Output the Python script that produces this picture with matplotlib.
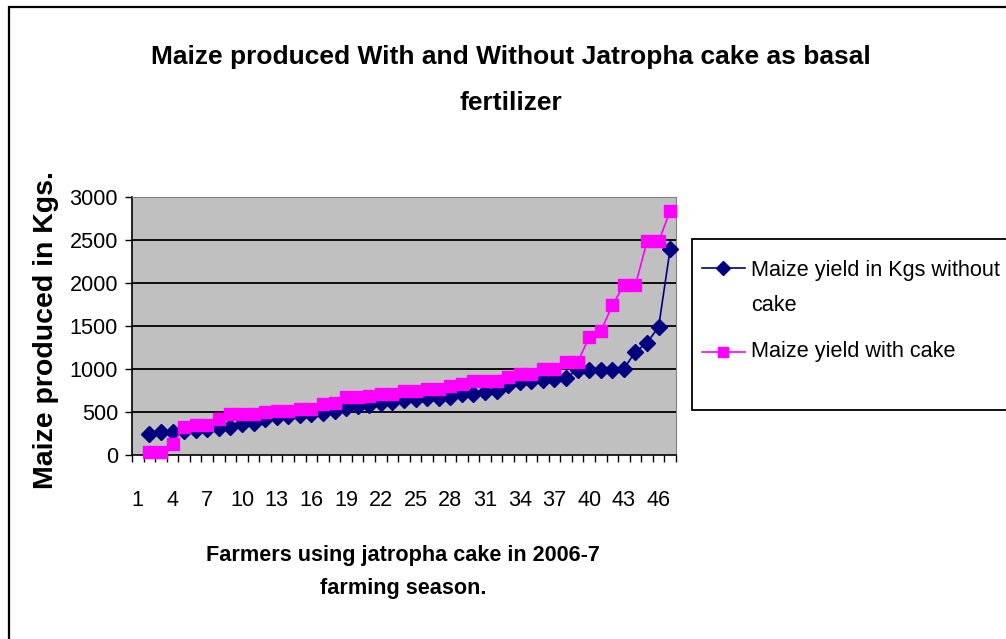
import matplotlib
matplotlib.use('Agg')
import matplotlib.pyplot as plt
from matplotlib.patches import Rectangle
from matplotlib.lines import Line2D

# ---- data ----
categories = list(range(1, 48))            # category axis 1..47
farmer_pos = list(range(2, 48))            # data occupy categories 2..47
without_cake = [250, 265, 270, 280, 295, 305, 315, 330, 360, 375, 420, 440, 455, 465,
                475, 485, 510, 545, 570, 585, 605, 620, 640, 655, 660, 665, 670, 705,
                715, 735, 740, 815, 845, 865, 875, 880, 900, 990, 990, 990, 990, 1005,
                1200, 1305, 1490, 2400]
with_cake = [30, 30, 130, 320, 346, 346, 420, 475, 475, 480, 505, 512, 512, 530, 530,
             590, 610, 670, 670, 690, 715, 715, 750, 750, 770, 770, 800, 830, 860, 860,
             860, 912, 940, 940, 995, 995, 1080, 1080, 1370, 1440, 1740, 1980, 1980,
             2485, 2485, 2840]
xtick_labels = [str(v) for v in range(1, 48, 3)]
yticks = [0, 500, 1000, 1500, 2000, 2500, 3000]
series_names = ["Maize yield in Kgs without\ncake", "Maize yield with cake"]
title_lines = ["Maize produced With and Without Jatropha cake as basal", "fertilizer"]
xlabel = "Farmers using jatropha cake in 2006-7\nfarming season."
ylabel = "Maize produced in Kgs."

FONT = 'Liberation Sans'

W, H = 1006, 639
fig = plt.figure(figsize=(W / 100, H / 100), dpi=100)

def fx(px):
    return px / W

def fy(py):
    return 1 - py / H

# outer border (only left and top visible)
fig.patches.append(Rectangle((fx(9), fy(650)), fx(1010) - fx(9), fy(7) - fy(650),
                             transform=fig.transFigure, fill=False, edgecolor='black',
                             linewidth=1.6, zorder=0))

ax = fig.add_axes([fx(132), fy(455), fx(676) - fx(132), fy(197) - fy(455)])
ax.set_facecolor('#C0C0C0')

navy = '#000080'
magenta = '#FF00FF'
ax.plot(farmer_pos, without_cake, color=navy, lw=1.2, marker='D', markersize=8.5,
        markeredgecolor=navy, markerfacecolor=navy, zorder=3, clip_on=False)
ax.plot(farmer_pos, with_cake, color=magenta, lw=1.2, marker='s', markersize=8.5,
        markeredgecolor=magenta, markerfacecolor=magenta, zorder=4, clip_on=False)

ax.set_xlim(0.5, 47.5)
ax.set_ylim(0, 3000)
ax.set_yticks(yticks)
ax.set_yticklabels([str(v) for v in yticks], fontfamily=FONT, fontsize=15.6)
ax.set_xticks(list(range(1, 48, 3)))
ax.set_xticklabels(xtick_labels, fontfamily=FONT, fontsize=15.6)
ax.set_xticks([c - 0.5 for c in categories] + [47.5], minor=True)
ax.tick_params(axis='x', which='major', length=0, pad=25)
ax.tick_params(axis='x', which='minor', length=5, width=1, direction='out', color='black')
ax.tick_params(axis='y', which='major', length=5, width=1, direction='out', pad=5)

for v in yticks[1:-1]:
    ax.axhline(v, color='black', lw=1.3, zorder=1)
ax.spines['left'].set_color('black')
ax.spines['bottom'].set_color('black')
ax.spines['left'].set_linewidth(1.2)
ax.spines['bottom'].set_linewidth(1.2)
ax.spines['top'].set_color('#808080')
ax.spines['right'].set_color('#808080')

# title (two lines)
fig.text(fx(511), fy(57), title_lines[0], ha='center', va='center', fontfamily=FONT,
         fontweight='bold', fontsize=19)
fig.text(fx(511), fy(103), title_lines[1], ha='center', va='center', fontfamily=FONT,
         fontweight='bold', fontsize=19)
# axis labels
fig.text(fx(403), fy(572), xlabel, ha='center', va='center', fontfamily=FONT,
         fontweight='bold', fontsize=15.6, linespacing=1.8)
fig.text(fx(46), fy(330), ylabel, ha='center', va='center', rotation=90,
         fontfamily=FONT, fontweight='bold', fontsize=20.5)

# legend (drawn in figure coordinates)
fig.patches.append(Rectangle((fx(692), fy(410)), fx(1020) - fx(692), fy(239) - fy(410),
                             transform=fig.transFigure, fill=True, facecolor='white',
                             edgecolor='black', linewidth=1.3, zorder=2))
for name, col, mk, yy, ty in [(series_names[0], navy, 'D', 268, 288),
                              (series_names[1], magenta, 's', 352, 352)]:
    fig.lines.append(Line2D([fx(702), fx(745)], [fy(yy), fy(yy)], transform=fig.transFigure,
                            color=col, lw=1.2, zorder=3))
    fig.lines.append(Line2D([fx(723)], [fy(yy)], transform=fig.transFigure, color=col,
                            marker=mk, markersize=7.5, markerfacecolor=col,
                            markeredgecolor=col, zorder=3))
    fig.text(fx(751), fy(ty), name, ha='left', va='center', fontfamily=FONT,
             fontsize=15.6, linespacing=1.85, zorder=3)

fig.savefig('out.png', dpi=100)
